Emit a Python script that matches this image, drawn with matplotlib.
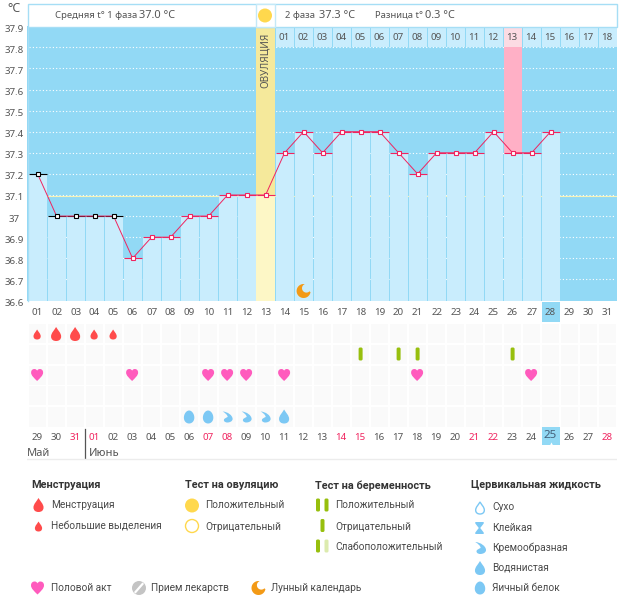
import numpy as np
import matplotlib
matplotlib.use("Agg")
import matplotlib.pyplot as plt
from matplotlib.patches import Rectangle, Circle, PathPatch, FancyBboxPatch
from matplotlib.path import Path
from matplotlib.transforms import ScaledTranslation, Affine2D

# ---------- data ----------
cycle_days = list(range(1, 32))
temps = [37.2, 37.0, 37.0, 37.0, 37.0, 36.8, 36.9, 36.9, 37.0, 37.0, 37.1, 37.1, 37.1, 37.3,
         37.4, 37.3, 37.4, 37.4, 37.4, 37.3, 37.2, 37.3, 37.3, 37.3, 37.4, 37.3, 37.3, 37.4]
y_ticks = [36.6, 36.7, 36.8, 36.9, 37.0, 37.1, 37.2, 37.3, 37.4, 37.5, 37.6, 37.7, 37.8, 37.9]
y_labels = ["36.6", "36.7", "36.8", "36.9", "37", "37.1", "37.2", "37.3", "37.4", "37.5", "37.6", "37.7", "37.8", "37.9"]
black_days = 5
ovulation_day = 13
pink_day = 26
today = 28
cover_line = 37.1
phase2_labels = ["%02d" % i for i in range(1, 19)]
dates = ["29", "30", "31"] + ["%02d" % i for i in range(1, 29)]
red_dates = {"31", "01", "07", "08", "14", "15", "21", "22", "28"}
menses_big = [2, 3]
menses_small = [1, 4, 5]
pregnancy_tests = [18, 20, 21, 26]
hearts = [1, 6, 10, 11, 12, 14, 21, 27]
egg_white = [9, 10]
creamy = [11, 12, 13]
watery = [14]
moon_days = [15]

BG = "#92d9f5"; LIGHT = "#c9edfd"; RED = "#f0245f"; TXT = "#555555"
DROP = "#ff4b4b"; PINK = "#ff5bbd"; BLUE = "#7cc8f4"; GREEN = "#97bf0d"; ORANGE = "#f39a16"; YEL = "#ffd84d"
W, H = 626, 595
TICK = "Noto Sans"; LEG = "Roboto"

# ---------- marker shapes ----------
def drop_path():
    v = [(0, 1), (0.25, 0.55), (0.72, 0.15), (0.72, -0.35), (0.72, -0.8), (0.4, -1), (0, -1),
         (-0.4, -1), (-0.72, -0.8), (-0.72, -0.35), (-0.72, 0.15), (-0.25, 0.55), (0, 1), (0, 1)]
    c = [Path.MOVETO] + [Path.CURVE4] * 12 + [Path.CLOSEPOLY]
    return Path(v, c)

def heart_path():
    v = [(0, -1), (-0.5, -0.5), (-1, -0.1), (-1, 0.4), (-1, 0.85), (-0.7, 1), (-0.45, 1),
         (-0.2, 1), (-0.05, 0.85), (0, 0.7), (0.05, 0.85), (0.2, 1), (0.45, 1),
         (0.7, 1), (1, 0.85), (1, 0.4), (1, -0.1), (0.5, -0.5), (0, -1), (0, -1)]
    c = [Path.MOVETO] + [Path.CURVE4] * 18 + [Path.CLOSEPOLY]
    return Path(v, c)

def cream_path():
    v = [(-0.8, 1), (0.1, 0.95), (1.0, 0.3), (1.0, -0.35), (1.0, -0.8), (0.45, -1), (0.05, -1),
         (-0.55, -1), (-0.75, -0.55), (-0.45, -0.3), (-0.2, -0.1), (0.05, -0.05), (0.1, 0.0),
         (0.1, 0.35), (-0.3, 0.7), (-0.8, 1), (-0.8, 1)]
    c = [Path.MOVETO] + [Path.CURVE4] * 15 + [Path.CLOSEPOLY]
    return Path(v, c)

def moon_path():
    t_out = np.radians(np.linspace(80, 350, 80))
    cx, cy = 0.4, 0.4
    r = np.hypot(np.cos(np.radians(80)) - cx, np.sin(np.radians(80)) - cy)
    a0 = np.arctan2(np.sin(np.radians(350)) - cy, np.cos(np.radians(350)) - cx)
    a1 = np.arctan2(np.sin(np.radians(80)) - cy, np.cos(np.radians(80)) - cx) - 2 * np.pi
    t_in = np.linspace(a0, a1, 60)
    return Path(np.r_[np.c_[np.cos(t_out), np.sin(t_out)],
                      np.c_[cx + r * np.cos(t_in), cy + r * np.sin(t_in)]])

def egg_path():
    t = np.linspace(0, 2 * np.pi, 60)
    return Path(np.c_[0.8 * np.cos(t) * (1 - 0.1 * np.sin(t)), np.sin(t)])

def glass_path():
    return Path([(-0.7, 1), (0.7, 1), (0.7, 0.75), (0.12, 0), (0.7, -0.75), (0.7, -1), (-0.7, -1),
                 (-0.7, -0.75), (-0.12, 0), (-0.7, 0.75), (-0.7, 1)])

DROP_P, HEART_P, CREAM_P, MOON_P, EGG_P, GLASS_P = drop_path(), heart_path(), cream_path(), moon_path(), egg_path(), glass_path()

def place(ax, path, x, y, h, color, **kw):
    tr = Affine2D().scale(h, -h).translate(x, y) + ax.transData
    ax.add_patch(PathPatch(path, transform=tr, facecolor=kw.get("fc", color),
                           edgecolor=kw.get("ec", "none"), lw=kw.get("lw", 0), clip_on=False))

fig = plt.figure(figsize=(W / 100, H / 100), dpi=100, facecolor="white")

def axes_px(l, t, r, b, **kw):
    return fig.add_axes([l / W, 1 - b / H, (r - l) / W, (b - t) / H], **kw)

# ---------- calendar ----------
x0, xw = 37.6, 19.0
xlo, xhi = 0.5 - 0.05, 31.5
def px(d):
    return x0 + (d - 1) * xw

cal = axes_px(px(xlo), 302, px(xhi), 462, zorder=1)
cal.set_xlim(xlo, xhi); cal.set_ylim(462, 302); cal.axis("off")
rows = [(324, 343), (345, 364), (366, 385), (386, 405), (407, 427)]
for top, bot in rows:
    for d in cycle_days:
        cal.add_patch(Rectangle((d - 0.47, top), 0.92, bot - top, fc="#fafafa", ec="none"))
cal.add_patch(Rectangle((today - 0.47, 302), 0.95, 20, fc=BG, ec="none"))
cal.add_patch(Rectangle((today - 0.47, 427), 0.95, 18, fc=BG, ec="none"))
cal.plot([today], [444], marker="^", ms=3, color="white", mec="none")
for d, lab in zip(cycle_days, dates):
    if lab == "25":
        cal.text(d - 0.03, 436, lab, ha="center", va="center", fontsize=8.4, color="#44607a", family=TICK)
    else:
        cal.text(d - 0.03, 437, lab, ha="center", va="center", fontsize=7,
                 color=RED if lab in red_dates else TXT, family=TICK)
cal.text(xlo - 0.03, 453, "Май", fontsize=8, color=TXT, va="center", family=TICK)
cal.text(3.68, 453, "Июнь", fontsize=8, color=TXT, va="center", family=TICK)
cal.plot([3.5, 3.5], [429, 458], color="#555555", lw=0.9)
cal.plot([xlo, xhi], [458.5, 458.5], color="#ececec", lw=1)

# ---------- main temperature chart ----------
ax = axes_px(px(xlo), 300.5 - 13 * 21.1, px(xhi), 300.5, zorder=3)
ax.set_xlim(xlo, xhi); ax.set_ylim(36.6, 37.9); ax.set_facecolor(BG)
for s in ax.spines.values():
    s.set_visible(False)
bottom = 36.6
days = np.arange(1, len(temps) + 1)
for v in y_ticks[1:-1]:
    ax.plot([xlo + 0.1, xhi - 0.1], [v, v], color="white", lw=0.8, dashes=(1, 2), zorder=1)
ax.plot([1.5, xhi], [cover_line - 0.005] * 2, color="#f6f3b8", lw=0.8, zorder=1.2)
ax.bar(ovulation_day, 37.9 - bottom, bottom=bottom, width=1.0, color="#f5e99b", zorder=1.5)
ax.bar(pink_day, 37.8 - bottom, bottom=bottom, width=18 / 19, color="#ffb0c6", zorder=1.5)
bar_col = [LIGHT] * len(temps)
ax.bar(days, np.array(temps) - bottom, bottom=bottom, width=18 / 19, color=bar_col, zorder=2)
ax.bar(ovulation_day, temps[ovulation_day - 1] - bottom, bottom=bottom, width=1.0, color="#fdf7c6", zorder=2)
hdr = np.arange(14, 32)
ax.bar(hdr, 0.1, bottom=37.8, width=18 / 19,
       color=["#fcdbe3" if d == pink_day else LIGHT for d in hdr], zorder=2)
for d, lab in zip(hdr, phase2_labels):
    ax.text(d - 0.03, 37.848, lab, ha="center", va="center", fontsize=7, color=TXT, family=TICK, zorder=5)
ax.text(ovulation_day, 37.74, "ОВУЛЯЦИЯ", rotation=90, ha="center", va="center",
        fontsize=7.2, color=TXT, family=TICK, zorder=5)
for d, t in zip(days, temps):
    ax.plot([d - 0.47, d + 0.47], [t, t], color="black" if d <= black_days else RED, lw=0.8, zorder=4,
            solid_capstyle="butt")
ax.plot(days, temps, color=RED, lw=0.7, zorder=4.2)
ax.plot(days[:black_days], temps[:black_days], ls="none", marker="s", ms=2.7, mfc="white", mec="black", mew=0.8, zorder=5)
ax.plot(days[black_days:], temps[black_days:], ls="none", marker="s", ms=2.7, mfc="white", mec=RED, mew=0.8, zorder=5)

ax.set_xticks(cycle_days)
ax.set_xticklabels(["%02d" % d for d in cycle_days], fontsize=7, color=TXT, family=TICK)
ax.tick_params(axis="x", length=0, pad=5.5)
ax.set_yticks(y_ticks)
ax.set_yticklabels(y_labels, fontsize=7, color=TXT, family=TICK)
ax.tick_params(axis="y", length=0, pad=9.5)
off = ScaledTranslation(0, -2 / 100, fig.dpi_scale_trans)
for lab in ax.get_yticklabels():
    lab.set_ha("center")
    lab.set_transform(lab.get_transform() + off)

# ---------- overlay in pixels ----------
ov = fig.add_axes([0, 0, 1, 1], zorder=6)
ov.set_xlim(0, W); ov.set_ylim(H, 0); ov.axis("off"); ov.patch.set_alpha(0)

BORDER = "#a6def5"
ov.add_patch(Rectangle((27.5, 3.5), 589, 23.5, fc="white", ec=BORDER, lw=1))
ov.add_patch(Rectangle((255.5, 3.5), 19, 23.5, fc="white", ec="#c4e9f8", lw=1))
ov.plot([27.5, 27.5], [27, 301], color=BORDER, lw=1)
ov.add_patch(Circle((265, 15.5), 7, fc=YEL, ec="none"))
ov.text(14, 8, "°C", fontsize=9, color=TXT, ha="center", va="center", family=TICK)
ov.text(55, 15.5, "Средняя t° 1 фаза", fontsize=6.8, color=TXT, va="center", family=TICK)
ov.text(139, 15.5, "37.0 °C", fontsize=7.9, color=TXT, va="center", family=TICK)
ov.text(285, 15.5, "2 фаза", fontsize=6.8, color=TXT, va="center", family=TICK)
ov.text(319, 15.5, "37.3 °C", fontsize=7.9, color=TXT, va="center", family=TICK)
ov.text(375, 15.5, "Разница t°", fontsize=6.8, color=TXT, va="center", family=TICK)
ov.text(425, 15.5, "0.3 °C", fontsize=7.9, color=TXT, va="center", family=TICK)

for d in moon_days:
    place(ov, MOON_P, px(d), 291, 7, ORANGE)
for d in menses_big:
    place(ov, DROP_P, px(d) - 0.5, 334, 7, DROP)
for d in menses_small:
    place(ov, DROP_P, px(d) - 0.5, 334.5, 5, DROP)
for d in pregnancy_tests:
    ov.add_patch(FancyBboxPatch((px(d) - 1.5, 348), 3, 12, boxstyle="round,pad=0.5,rounding_size=1.5", fc=GREEN, ec="none"))
for d in hearts:
    place(ov, HEART_P, px(d) - 0.5, 375, 6, PINK)
for d in egg_white:
    place(ov, EGG_P, px(d) - 0.5, 417, 6.5, BLUE)
for d in creamy:
    place(ov, CREAM_P, px(d) - 0.5, 417, 5.5, BLUE)
for d in watery:
    place(ov, DROP_P, px(d) - 0.5, 416.5, 7, BLUE)

# ---------- legend ----------
def head(x, y, s):
    ov.text(x, y, s, fontsize=7.85, fontweight="bold", color="#333333", va="center", family=LEG)
def item(x, y, s):
    ov.text(x, y, s, fontsize=7.3, color="#4a4a4a", va="center", family=LEG)

head(31, 485.5, "Менструация"); head(185, 485.5, "Тест на овуляцию")
head(315, 485.5, "Тест на беременность"); head(471, 485.5, "Цервикальная жидкость")

place(ov, DROP_P, 38.5, 505, 7, DROP); item(51, 505.5, "Менструация")
place(ov, DROP_P, 38.5, 526.5, 5, DROP); item(51, 526.5, "Небольшие выделения")
ov.add_patch(Circle((192, 505.5), 7, fc=YEL, ec="none")); item(205, 505.5, "Положительный")
ov.add_patch(Circle((192, 526), 6.5, fc="white", ec=YEL, lw=1)); item(205, 526.5, "Отрицательный")

def test_bar(x, yc, col):
    ov.add_patch(FancyBboxPatch((x - 1.5, yc - 6), 3, 12, boxstyle="round,pad=0.5,rounding_size=1.5", fc=col, ec="none"))
test_bar(318, 505, GREEN); test_bar(326.5, 505, GREEN); item(335, 505.5, "Положительный")
test_bar(322.5, 525.5, GREEN); item(335, 526.5, "Отрицательный")
test_bar(318, 546, GREEN); test_bar(326.5, 546, "#dcebae"); item(335, 546.5, "Слабоположительный")

place(ov, DROP_P, 480, 508, 6, "white", ec=BLUE, lw=1); item(492, 507.5, "Сухо")
place(ov, GLASS_P, 479.5, 528, 6, BLUE); item(492, 528, "Клейкая")
place(ov, CREAM_P, 480, 548, 6, BLUE); item(492, 548, "Кремообразная")
place(ov, DROP_P, 480, 568, 7, BLUE); item(492, 568, "Водянистая")
place(ov, EGG_P, 480, 588, 6.5, BLUE); item(492, 588, "Яичный белок")

place(ov, HEART_P, 37.5, 588, 6.5, PINK); item(51, 588, "Половой акт")
ov.add_patch(Circle((139, 588), 7, fc="#c4c4c4", ec="none"))
ov.plot([135.5, 142.5], [592, 584], color="white", lw=1.6)
item(151, 588, "Прием лекарств")
place(ov, MOON_P, 258.5, 588, 7, ORANGE); item(271, 588, "Лунный календарь")

fig.savefig("out.png", dpi=100, facecolor="white")
